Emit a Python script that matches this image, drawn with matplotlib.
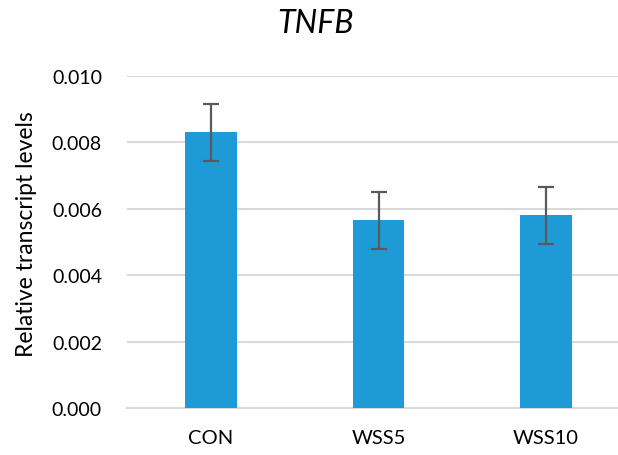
import matplotlib
matplotlib.use("Agg")
import matplotlib.pyplot as plt
from matplotlib.ticker import MultipleLocator, FormatStrFormatter

categories = ["CON", "WSS5", "WSS10"]
values = [0.00830, 0.00566, 0.00581]
errors = [0.00085, 0.00086, 0.00086]

plt.rcParams["font.family"] = ["Lato", "DejaVu Sans"]

W, H = 618, 456
fig = plt.figure(figsize=(W / 100, H / 100), dpi=100)
left, right, top, bottom = 127, 630, 77, 409
ax = fig.add_axes([left / W, 1 - bottom / H, (right - left) / W, (bottom - top) / H])

x = range(len(categories))
ax.bar(x, values, width=0.31, color="#1E9BD7", zorder=3)
ax.errorbar(x, values, yerr=errors, fmt="none", ecolor="#595959",
            elinewidth=1.6, capsize=5.5, capthick=1.6, zorder=4)

ax.set_xlim(-0.5, 2.5)
ax.set_ylim(0, 0.010)
ax.yaxis.set_major_locator(MultipleLocator(0.002))
ax.yaxis.set_major_formatter(FormatStrFormatter("%.3f"))
ax.set_xticks(list(x))
ax.set_xticklabels(categories)
ax.grid(axis="y", color="#D9D9D9", linewidth=1.5, zorder=0)
ax.tick_params(axis="both", length=0, labelsize=14, colors="black")
ax.tick_params(axis="x", pad=15, labelsize=14.5)
ax.tick_params(axis="y", pad=18)
for side in ["top", "right", "left"]:
    ax.spines[side].set_visible(False)
ax.spines["bottom"].set_color("#D9D9D9")
ax.spines["bottom"].set_linewidth(1.5)

fig.text(27 / W, 1 - 234 / H, "Relative transcript levels", fontsize=16.5,
         rotation=90, ha="center", va="center")
fig.text(315 / W, 1 - 24 / H, "TNFB", fontsize=23, style="italic",
         ha="center", va="center")

fig.savefig("out.png", dpi=100)
